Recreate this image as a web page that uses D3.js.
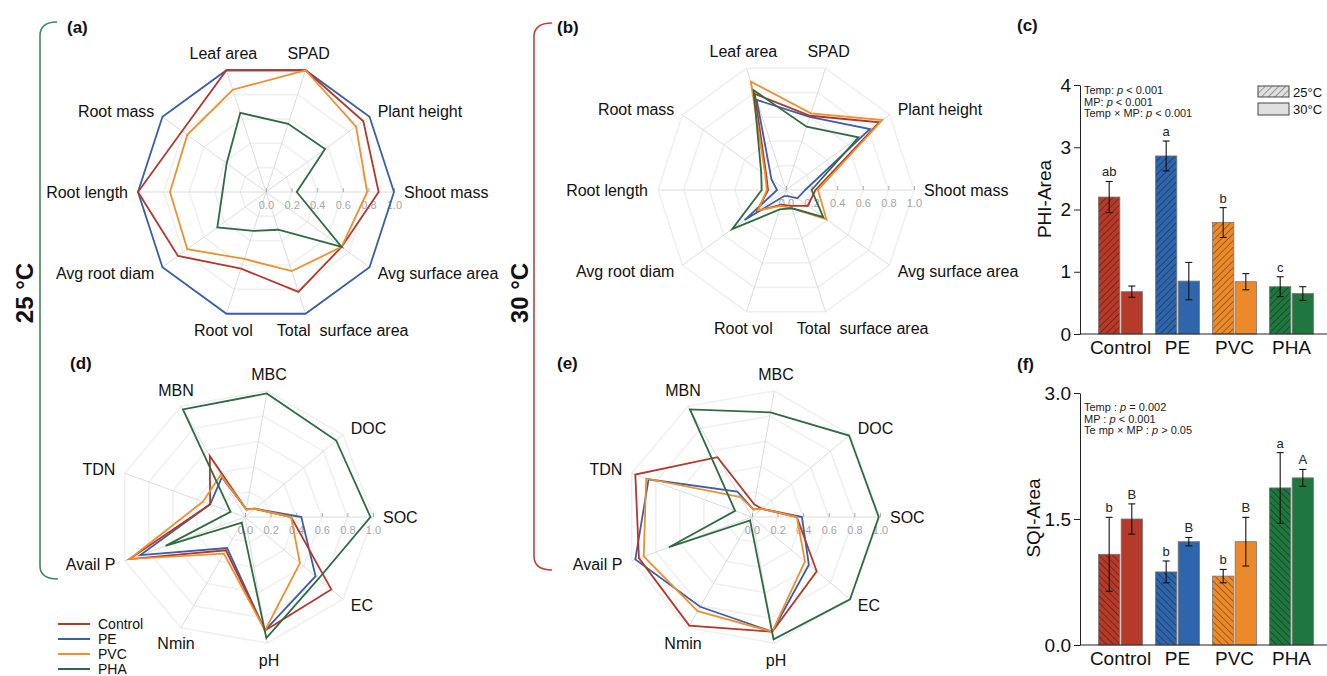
<!DOCTYPE html>
<html>
<head>
<meta charset="utf-8">
<script src="https://cdn.jsdelivr.net/npm/d3@7"></script>
<style>
  body { margin: 0; background: #fff; }
  text { font-family: Arial, "Liberation Sans", sans-serif; }
</style>
</head>
<body>
<div id="chart"></div>
<script>
// treatments and their colours
var treatments = ["Control", "PE", "PVC", "PHA"];
var lineColors = ["#b5372b", "#3b5ea8", "#ef8f2e", "#2e6b43"];
var barColors = ["#b63a29", "#2f66ab", "#ec8a2b", "#1f773e"];

// radar axes, listed counter-clockwise starting from the right (east)
var plantTraits = ["Shoot mass", "Plant height", "SPAD", "Leaf area", "Root mass",
  "Root length", "Avg root diam", "Root vol", "Total  surface area", "Avg surface area"];
var soilTraits = ["SOC", "DOC", "MBC", "MBN", "TDN", "Avail P", "Nmin", "pH", "EC"];

// (a) plant traits at 25 °C (rows follow treatments)
var plant25 = [
  [0.88, 0.94, 1.00, 1.00, 0.81, 1.00, 0.85, 0.63, 0.82, 0.73],
  [1.00, 1.00, 1.00, 1.00, 1.00, 1.00, 1.00, 1.00, 1.00, 1.00],
  [0.79, 0.87, 1.00, 0.84, 0.76, 0.75, 0.76, 0.55, 0.65, 0.73],
  [0.24, 0.57, 0.56, 0.65, 0.38, 0.34, 0.47, 0.32, 0.31, 0.73]
];
// (b) plant traits at 30 °C
var plant30 = [
  [0.23, 0.90, 0.61, 0.79, 0.19, 0.14, 0.28, 0.12, 0.13, 0.21],
  [0.15, 0.81, 0.60, 0.74, 0.14, 0.07, 0.40, 0.05, 0.05, 0.11],
  [0.25, 0.93, 0.63, 0.89, 0.20, 0.15, 0.27, 0.13, 0.15, 0.39],
  [0.20, 0.70, 0.52, 0.82, 0.24, 0.19, 0.52, 0.16, 0.15, 0.36]
];
// (d) soil properties at 25 °C
var soil25 = [
  [0.36, 0.10, 0.06, 0.55, 0.29, 0.96, 0.30, 0.90, 0.88],
  [0.44, 0.10, 0.06, 0.36, 0.29, 0.87, 0.28, 0.90, 0.72],
  [0.36, 0.10, 0.06, 0.38, 0.35, 0.96, 0.33, 0.90, 0.56],
  [0.98, 0.93, 0.98, 0.97, 0.12, 0.66, 0.05, 0.96, 0.75]
];
// (e) soil properties at 30 °C
var soil30 = [
  [0.35, 0.10, 0.10, 0.54, 0.97, 0.94, 0.98, 0.91, 0.66],
  [0.39, 0.10, 0.06, 0.23, 0.86, 0.97, 0.81, 0.91, 0.58],
  [0.35, 0.10, 0.06, 0.18, 0.88, 0.90, 0.85, 0.91, 0.54],
  [0.99, 0.99, 0.83, 0.97, 0.14, 0.69, 0.03, 0.97, 1.00]
];
var radarTicks = [0, 0.2, 0.4, 0.6, 0.8, 1.0];

// (c) PHI-Area
var phi25 = [2.20, 2.86, 1.79, 0.76];
var phi25Err = [0.25, 0.24, 0.24, 0.16];
var phi30 = [0.68, 0.85, 0.84, 0.65];
var phi30Err = [0.09, 0.30, 0.13, 0.11];
var phiLetters25 = ["ab", "a", "b", "c"];
var phiLetters30 = ["", "", "", ""];
var phiTicks = [0, 1, 2, 3, 4];
var phiStats = ["Temp: |p| <  0.001", "MP: |p| < 0.001", "Temp × MP: |p| < 0.001"];

// (f) SQI-Area
var sqi25 = [1.08, 0.87, 0.82, 1.87];
var sqi25Err = [0.44, 0.13, 0.08, 0.42];
var sqi30 = [1.50, 1.23, 1.23, 1.99];
var sqi30Err = [0.18, 0.05, 0.29, 0.10];
var sqiLetters25 = ["b", "b", "b", "a"];
var sqiLetters30 = ["B", "B", "B", "A"];
var sqiTicks = [0, 1.5, 3.0];
var sqiStats = ["Temp : |p| = 0.002", "MP : |p| < 0.001", "Te mp × MP : |p| > 0.05"];

var temps = ["25°C", "30°C"];

var width = 1327, height = 676;
var svg = d3.select("#chart").append("svg")
  .attr("width", width).attr("height", height)
  .style("display", "block");
svg.append("rect").attr("width", width).attr("height", height).attr("fill", "#fff");
var defs = svg.append("defs");

// hatch patterns: rotate 45 -> "///", rotate -45 -> "\\\"
function makeHatch(id, fill, angle) {
  var p = defs.append("pattern").attr("id", id)
    .attr("patternUnits", "userSpaceOnUse")
    .attr("width", 4.8).attr("height", 4.8)
    .attr("patternTransform", "rotate(" + angle + ")");
  p.append("rect").attr("width", 4.8).attr("height", 4.8).attr("fill", fill);
  p.append("line").attr("x1", 0).attr("y1", 0).attr("x2", 0).attr("y2", 4.8)
    .attr("stroke", "rgba(0,0,0,0.55)").attr("stroke-width", 1.2);
}
barColors.forEach(function(c, i) {
  makeHatch("hatchR" + i, c, 45);
  makeHatch("hatchL" + i, c, -45);
});
makeHatch("hatchLegend", "#e0e0e0", 45);

var R = 128;

function drawRadar(cx, cy, axes, series, letter, letterX, letterY) {
  var g = svg.append("g").attr("transform", "translate(" + cx + "," + cy + ")");
  var n = axes.length;
  var r = d3.scaleLinear().domain([0, 1]).range([0, R]);
  var ang = d3.scaleLinear().domain([0, n]).range([0, 2 * Math.PI]);
  var radial = d3.lineRadial()
    .angle(function(d, i) { return Math.PI / 2 - ang(i); })
    .radius(function(d) { return r(d); })
    .curve(d3.curveLinearClosed);

  // grid rings
  g.selectAll(".ring").data(radarTicks.slice(1)).enter().append("path")
    .attr("d", function(l) { return radial(axes.map(function() { return l; })); })
    .attr("fill", "none").attr("stroke", "#f0f0f0").attr("stroke-width", 1.6);

  // spokes
  g.selectAll(".spoke").data(axes).enter().append("line")
    .attr("x1", 0).attr("y1", 0)
    .attr("x2", function(d, i) { return r(1) * Math.cos(ang(i)); })
    .attr("y2", function(d, i) { return -r(1) * Math.sin(ang(i)); })
    .attr("stroke", "#dcdcdc").attr("stroke-width", 1);

  // value axis along the first spoke
  var ax = g.append("g")
    .call(d3.axisBottom(r).tickValues(radarTicks).tickFormat(d3.format(".1f"))
      .tickSize(-4).tickPadding(9));
  ax.select(".domain").remove();
  ax.selectAll("line").attr("stroke", "#aaa");
  ax.selectAll("text").attr("fill", "#a6a6a6").style("font-size", "11px")
    .style("font-family", "Arial, 'Liberation Sans', sans-serif");

  // series
  var order = [1, 0, 2, 3];
  g.selectAll(".series").data(order).enter().append("path")
    .attr("d", function(k) { return radial(series[k]); })
    .attr("fill", "none")
    .attr("stroke", function(k) { return lineColors[k]; })
    .attr("stroke-width", 1.8)
    .attr("stroke-linejoin", "miter");

  // axis labels
  g.selectAll(".lab").data(axes).enter().append("text")
    .each(function(d, i) {
      var a = ang(i), c = Math.cos(a), s = Math.sin(a);
      var rr = R + 10;
      var x = rr * c, y = -rr * s;
      var anchor = "middle";
      if (Math.abs(c) < 0.55) { y += (s > 0 ? -7 : 7); }
      else { anchor = c > 0 ? "start" : "end"; }
      if (d.indexOf("Total") === 0) { x += 34; }
      d3.select(this).attr("x", x).attr("y", y).attr("dy", "0.35em")
        .attr("text-anchor", anchor)
        .style("white-space", "pre")
        .style("font-size", "16px").attr("fill", "#111").text(d);
    });

  svg.append("text").attr("x", letterX).attr("y", letterY)
    .style("font-size", "17px").style("font-weight", "bold").attr("fill", "#111")
    .text(letter);
}

drawRadar(266, 192, plantTraits, plant25, "(a)", 67, 33);
drawRadar(786, 190, plantTraits, plant30, "(b)", 557, 33);
drawRadar(245, 517, soilTraits, soil25, "(d)", 70, 369);
drawRadar(752, 517, soilTraits, soil30, "(e)", 557, 369);

// legend for the radar charts
var leg = svg.append("g");
treatments.forEach(function(t, i) {
  var yy = 624 + i * 15;
  leg.append("line").attr("x1", 58).attr("x2", 90).attr("y1", yy).attr("y2", yy)
    .attr("stroke", lineColors[i]).attr("stroke-width", 2);
  leg.append("text").attr("x", 98).attr("y", yy).attr("dy", "0.35em")
    .style("font-size", "14px").attr("fill", "#111").text(t);
});

// temperature brackets
svg.append("path").attr("d", "M57,22 Q40,22 40,36 L40,566 Q40,579 58,579")
  .attr("fill", "none").attr("stroke", "#3c8a5c").attr("stroke-width", 1.6);
svg.append("path").attr("d", "M552,23 Q534,23 534,37 L534,556 Q534,570 552,570")
  .attr("fill", "none").attr("stroke", "#c0413a").attr("stroke-width", 1.6);
svg.append("text").attr("transform", "translate(33,293) rotate(-90)")
  .attr("text-anchor", "middle").style("font-size", "24px").style("font-weight", "bold")
  .attr("fill", "#111").text("25 °C");
svg.append("text").attr("transform", "translate(528,293) rotate(-90)")
  .attr("text-anchor", "middle").style("font-size", "24px").style("font-weight", "bold")
  .attr("fill", "#111").text("30 °C");

// bar panels
function drawBars(cfg) {
  var y = d3.scaleLinear().domain(cfg.domain).range([cfg.y0, cfg.y1]);
  var x0 = d3.scaleBand().domain(treatments).range([1092, 1320])
    .paddingInner(0.23).paddingOuter(0.115);
  var x1 = d3.scaleBand().domain(temps).range([0, x0.bandwidth()]).paddingInner(0.06);
  var g = svg.append("g");

  var rows = treatments.map(function(t, i) {
    return [
      { t: t, i: i, temp: temps[0], v: cfg.v25[i], e: cfg.e25[i], l: cfg.l25[i] },
      { t: t, i: i, temp: temps[1], v: cfg.v30[i], e: cfg.e30[i], l: cfg.l30[i] }
    ];
  });
  var bars = [].concat.apply([], rows);
  var mid = function(d) { return x0(d.t) + x1(d.temp) + x1.bandwidth() / 2; };

  g.selectAll(".bar").data(bars).enter().append("rect")
    .attr("x", function(d) { return x0(d.t) + x1(d.temp); })
    .attr("y", function(d) { return y(d.v); })
    .attr("width", x1.bandwidth())
    .attr("height", function(d) { return y(0) - y(d.v); })
    .attr("fill", function(d) {
      return d.temp === temps[0] ? "url(#" + cfg.hatch + d.i + ")" : barColors[d.i];
    })
    .attr("stroke", "#777").attr("stroke-width", 0.8);

  // error bars
  var eb = g.selectAll(".err").data(bars).enter().append("g");
  eb.append("line")
    .attr("x1", mid).attr("x2", mid)
    .attr("y1", function(d) { return y(d.v + d.e); })
    .attr("y2", function(d) { return y(d.v - d.e); })
    .attr("stroke", "#111").attr("stroke-width", 1.1);
  [1, -1].forEach(function(sg) {
    eb.append("line")
      .attr("x1", function(d) { return mid(d) - 3.5; })
      .attr("x2", function(d) { return mid(d) + 3.5; })
      .attr("y1", function(d) { return y(d.v + sg * d.e); })
      .attr("y2", function(d) { return y(d.v + sg * d.e); })
      .attr("stroke", "#111").attr("stroke-width", 1.1);
  });
  // letters
  g.selectAll(".letter").data(bars.filter(function(d) { return d.l; })).enter().append("text")
    .attr("x", mid)
    .attr("y", function(d) { return y(d.v + d.e) - 5; })
    .attr("text-anchor", "middle").style("font-size", "13px").attr("fill", "#222")
    .text(function(d) { return d.l; });

  // axes
  var ya = g.append("g").attr("transform", "translate(1080,0)")
    .call(d3.axisLeft(y).tickValues(cfg.ticks).tickFormat(cfg.fmt).tickSize(6).tickSizeOuter(0).tickPadding(3));
  ya.selectAll("text").style("font-size", "19px").attr("fill", "#111")
    .style("font-family", "Arial, 'Liberation Sans', sans-serif");
  ya.selectAll("line,path").attr("stroke", "#222");

  var xa = g.append("g").attr("transform", "translate(0," + y(0) + ")")
    .call(d3.axisBottom(x0).tickSize(0).tickPadding(7));
  xa.select(".domain").remove();
  xa.selectAll("text").style("font-size", "19px").attr("fill", "#111")
    .style("font-family", "Arial, 'Liberation Sans', sans-serif");
  g.append("line").attr("x1", 1080).attr("x2", width).attr("y1", y(0)).attr("y2", y(0))
    .attr("stroke", "#222");

  // y title
  g.append("text").attr("transform", "translate(" + cfg.titleX + "," + cfg.titleY + ") rotate(-90)")
    .attr("text-anchor", "middle").style("font-size", "19px").attr("fill", "#111")
    .text(cfg.title);

  // stats text with italic p
  cfg.stats.forEach(function(s, k) {
    var parts = s.split("|");
    var t = g.append("text").attr("x", 1084).attr("y", cfg.statsY + k * 11.5)
      .style("font-size", "11px").attr("fill", "#222");
    parts.forEach(function(p, j) {
      t.append("tspan").style("font-style", j === 1 ? "italic" : "normal").text(p);
    });
  });

  svg.append("text").attr("x", 1017).attr("y", cfg.letterY)
    .style("font-size", "17px").style("font-weight", "bold").attr("fill", "#111")
    .text(cfg.letter);
}

drawBars({
  domain: [0, 4], y0: 334, y1: 85, ticks: phiTicks, fmt: d3.format("d"),
  v25: phi25, e25: phi25Err, v30: phi30, e30: phi30Err,
  l25: phiLetters25, l30: phiLetters30, hatch: "hatchR",
  title: "PHI-Area", titleX: 1051, titleY: 199, stats: phiStats, statsY: 94,
  letter: "(c)", letterY: 31
});
drawBars({
  domain: [0, 3], y0: 645, y1: 393, ticks: sqiTicks, fmt: d3.format(".1f"),
  v25: sqi25, e25: sqi25Err, v30: sqi30, e30: sqi30Err,
  l25: sqiLetters25, l30: sqiLetters30, hatch: "hatchL",
  title: "SQI-Area", titleX: 1040, titleY: 518, stats: sqiStats, statsY: 411,
  letter: "(f)", letterY: 370
});

// temperature legend for (c)
var tl = svg.append("g");
tl.append("rect").attr("x", 1258).attr("y", 86).attr("width", 31).attr("height", 11)
  .attr("fill", "url(#hatchLegend)").attr("stroke", "#444");
tl.append("rect").attr("x", 1258).attr("y", 103).attr("width", 31).attr("height", 12)
  .attr("fill", "#e0e0e0").attr("stroke", "#444");
temps.forEach(function(t, i) {
  tl.append("text").attr("x", 1293).attr("y", 92 + i * 17).attr("dy", "0.35em")
    .style("font-size", "13px").attr("fill", "#111").text(t);
});
</script>
</body>
</html>
